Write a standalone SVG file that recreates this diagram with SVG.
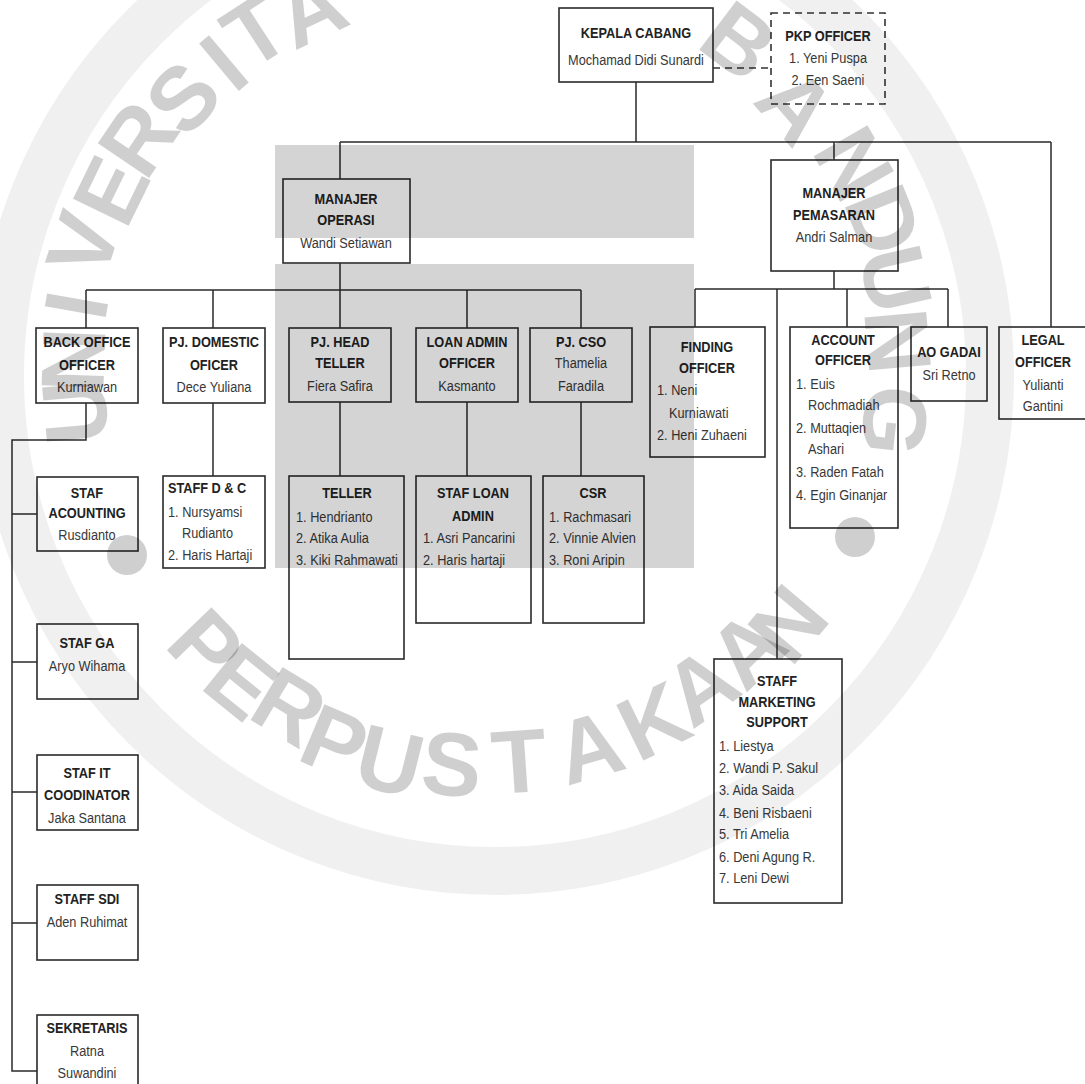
<svg xmlns="http://www.w3.org/2000/svg" width="1085" height="1084" viewBox="0 0 1085 1084">
<defs>
<style>
.bx{fill:#fff;stroke:#2a2a2a;stroke-width:1.6}
.dash{fill:#fff;stroke:#333;stroke-width:1.6;stroke-dasharray:7 5}
.cn{fill:none;stroke:#2a2a2a;stroke-width:1.5}
.cd{fill:none;stroke:#333;stroke-width:1.5;stroke-dasharray:7 5}
text{font-family:"Liberation Sans",Arial,sans-serif;font-size:15px}
.t{font-weight:bold;fill:#222;text-anchor:middle}
.tl{font-weight:bold;fill:#222}
.n{fill:#383838;text-anchor:middle}
.l{fill:#383838}
.t,.n{transform-box:fill-box;transform-origin:center;transform:scaleX(.85)}
.l,.tl{transform-box:fill-box;transform-origin:left center;transform:scaleX(.85)}
.wm text{font-family:"Liberation Sans",Arial,sans-serif;font-size:90px;font-weight:bold;text-anchor:middle;fill:#000;fill-opacity:.19}
.gr{fill:#000;fill-opacity:.17}
</style>
</defs>
<rect width="1085" height="1084" fill="#fff"/>

<g id="connectors">
<path class="cn" d="M636,82V142M340,142H1051M340,142V179M834,142V160M1051,142V327"/>
<path class="cd" d="M713,68H771"/>
<path class="cn" d="M340,263V290M86,290H581M86,290V328M213,290V328M340,290V328M467,290V328M581,290V328"/>
<path class="cn" d="M86,403V440H12V1071H37M12,514H37M12,662H37M12,792H37M12,923H37"/>
<path class="cn" d="M213,403V476M340,402V476M467,402V476M581,402V476"/>
<path class="cn" d="M834,271V289M695,289H948M695,289V327M777,289V659M847,289V327M948,289V327"/>
</g>

<g id="kepala-cabang"><rect class="bx" x="559" y="8" width="154" height="74"/>
<text class="t" x="636" y="38">KEPALA CABANG</text><text class="n" x="636" y="65">Mochamad Didi Sunardi</text></g>

<g id="pkp-officer"><rect class="dash" x="771" y="13" width="114" height="91"/>
<text class="t" x="828" y="41">PKP OFFICER</text><text class="n" x="828" y="63">1. Yeni Puspa</text><text class="n" x="828" y="85">2. Een Saeni</text></g>

<g id="manajer-operasi"><rect class="bx" x="283" y="179" width="127" height="84"/>
<text class="t" x="346" y="204">MANAJER</text><text class="t" x="346" y="225">OPERASI</text><text class="n" x="346" y="248">Wandi Setiawan</text></g>

<g id="manajer-pemasaran"><rect class="bx" x="771" y="160" width="127" height="111"/>
<text class="t" x="834" y="198">MANAJER</text><text class="t" x="834" y="220">PEMASARAN</text><text class="n" x="834" y="242">Andri Salman</text></g>

<g id="back-office"><rect class="bx" x="36" y="328" width="102" height="75"/>
<text class="t" x="87" y="347">BACK OFFICE</text><text class="t" x="87" y="370">OFFICER</text><text class="n" x="87" y="392">Kurniawan</text></g>

<g id="pj-domestic"><rect class="bx" x="163" y="328" width="102" height="75"/>
<text class="t" x="214" y="347">PJ. DOMESTIC</text><text class="t" x="214" y="370">OFICER</text><text class="n" x="214" y="392">Dece Yuliana</text></g>

<g id="pj-head-teller"><rect class="bx" x="289" y="328" width="102" height="74"/>
<text class="t" x="340" y="347">PJ. HEAD</text><text class="t" x="340" y="368">TELLER</text><text class="n" x="340" y="391">Fiera Safira</text></g>

<g id="loan-admin"><rect class="bx" x="416" y="328" width="102" height="74"/>
<text class="t" x="467" y="347">LOAN ADMIN</text><text class="t" x="467" y="368">OFFICER</text><text class="n" x="467" y="391">Kasmanto</text></g>

<g id="pj-cso"><rect class="bx" x="530" y="328" width="102" height="74"/>
<text class="t" x="581" y="347">PJ. CSO</text><text class="n" x="581" y="368">Thamelia</text><text class="n" x="581" y="391">Faradila</text></g>

<g id="finding-officer"><rect class="bx" x="650" y="327" width="115" height="130"/>
<text class="t" x="707" y="352">FINDING</text><text class="t" x="707" y="373">OFFICER</text>
<text class="l" x="657" y="395">1. Neni</text><text class="l" x="669" y="418">Kurniawati</text><text class="l" x="657" y="440">2. Heni Zuhaeni</text></g>

<g id="account-officer"><rect class="bx" x="790" y="327" width="108" height="201"/>
<text class="t" x="843" y="345">ACCOUNT</text><text class="t" x="843" y="365">OFFICER</text>
<text class="l" x="796" y="389">1. Euis</text><text class="l" x="808" y="410">Rochmadiah</text><text class="l" x="796" y="433">2. Muttaqien</text><text class="l" x="808" y="454">Ashari</text><text class="l" x="796" y="477">3. Raden Fatah</text><text class="l" x="796" y="500">4. Egin Ginanjar</text></g>

<g id="ao-gadai"><rect class="bx" x="911" y="327" width="76" height="74"/>
<text class="t" x="949" y="357">AO GADAI</text><text class="n" x="949" y="380">Sri Retno</text></g>

<g id="legal-officer"><rect class="bx" x="999" y="327" width="92" height="92"/>
<text class="t" x="1043" y="345">LEGAL</text><text class="t" x="1043" y="367">OFFICER</text><text class="n" x="1043" y="390">Yulianti</text><text class="n" x="1043" y="411">Gantini</text></g>

<g id="staf-acounting"><rect class="bx" x="37" y="477" width="101" height="74"/>
<text class="t" x="87" y="498">STAF</text><text class="t" x="87" y="518">ACOUNTING</text><text class="n" x="87" y="540">Rusdianto</text></g>

<g id="staff-dc"><rect class="bx" x="163" y="476" width="102" height="92"/>
<text class="tl" x="168" y="493">STAFF D &amp; C</text><text class="l" x="168" y="517">1. Nursyamsi</text><text class="l" x="182" y="538">Rudianto</text><text class="l" x="168" y="560">2. Haris Hartaji</text></g>

<g id="teller"><rect class="bx" x="289" y="476" width="115" height="183"/>
<text class="t" x="347" y="498">TELLER</text><text class="l" x="296" y="522">1. Hendrianto</text><text class="l" x="296" y="543">2. Atika Aulia</text><text class="l" x="296" y="565">3. Kiki Rahmawati</text></g>

<g id="staf-loan-admin"><rect class="bx" x="416" y="476" width="115" height="147"/>
<text class="t" x="473" y="498">STAF LOAN</text><text class="t" x="473" y="521">ADMIN</text><text class="l" x="423" y="543">1. Asri Pancarini</text><text class="l" x="423" y="565">2. Haris hartaji</text></g>

<g id="csr"><rect class="bx" x="543" y="476" width="101" height="147"/>
<text class="t" x="593" y="498">CSR</text><text class="l" x="549" y="522">1. Rachmasari</text><text class="l" x="549" y="543">2. Vinnie Alvien</text><text class="l" x="549" y="565">3. Roni Aripin</text></g>

<g id="staf-ga"><rect class="bx" x="37" y="624" width="101" height="75"/>
<text class="t" x="87" y="648">STAF GA</text><text class="n" x="87" y="671">Aryo Wihama</text></g>

<g id="staf-it"><rect class="bx" x="37" y="755" width="101" height="75"/>
<text class="t" x="87" y="778">STAF IT</text><text class="t" x="87" y="800">COODINATOR</text><text class="n" x="87" y="823">Jaka Santana</text></g>

<g id="staff-sdi"><rect class="bx" x="37" y="885" width="101" height="75"/>
<text class="t" x="87" y="904">STAFF SDI</text><text class="n" x="87" y="927">Aden Ruhimat</text></g>

<g id="sekretaris"><rect class="bx" x="37" y="1015" width="101" height="80"/>
<text class="t" x="87" y="1033">SEKRETARIS</text><text class="n" x="87" y="1056">Ratna</text><text class="n" x="87" y="1078">Suwandini</text></g>

<g id="staff-marketing-support"><rect class="bx" x="714" y="659" width="128" height="244"/>
<text class="t" x="777" y="686">STAFF</text><text class="t" x="777" y="707">MARKETING</text><text class="t" x="777" y="727">SUPPORT</text>
<text class="l" x="719" y="751">1. Liestya</text><text class="l" x="719" y="773">2. Wandi P. Sakul</text><text class="l" x="719" y="795">3. Aida Saida</text><text class="l" x="719" y="818">4. Beni Risbaeni</text><text class="l" x="719" y="839">5. Tri Amelia</text><text class="l" x="719" y="862">6. Deni Agung R.</text><text class="l" x="719" y="883">7. Leni Dewi</text></g>

<g id="watermark" class="wm">
<circle cx="495" cy="376" r="495" fill="none" stroke="#000" stroke-opacity=".06" stroke-width="48"/>
<rect class="gr" x="275" y="145" width="419" height="93"/>
<rect class="gr" x="275" y="264" width="419" height="304"/>
<circle cx="127" cy="555" r="20" fill="#000" fill-opacity=".19"/>
<circle cx="855" cy="537" r="20" fill="#000" fill-opacity=".19"/>
<text transform="translate(74,412) rotate(265)" dy=".36em">U</text>
<text transform="translate(72,360) rotate(272)" dy=".36em">N</text>
<text transform="translate(75,305) rotate(280)" dy=".36em">I</text>
<text transform="translate(82,244) rotate(288)" dy=".36em">V</text>
<text transform="translate(110,190) rotate(296)" dy=".36em">E</text>
<text transform="translate(137,138) rotate(304)" dy=".36em">R</text>
<text transform="translate(182,97) rotate(312)" dy=".36em">S</text>
<text transform="translate(223,62) rotate(320)" dy=".36em">I</text>
<text transform="translate(255,30) rotate(327)" dy=".36em">T</text>
<text transform="translate(310,8) rotate(335)" dy=".36em">A</text>
<text transform="translate(740,40) rotate(37)" dy=".36em">B</text>
<text transform="translate(797,105) rotate(49)" dy=".36em">A</text>
<text transform="translate(855,163) rotate(60)" dy=".36em">N</text>
<text transform="translate(885,220) rotate(68)" dy=".36em">D</text>
<text transform="translate(897,279) rotate(77)" dy=".36em">U</text>
<text transform="translate(899,341) rotate(85)" dy=".36em">N</text>
<text transform="translate(896,421) rotate(96)" dy=".36em">G</text>
<text transform="translate(207,645) rotate(46)" dy=".36em">P</text>
<text transform="translate(242,681) rotate(39)" dy=".36em">E</text>
<text transform="translate(290,706) rotate(31)" dy=".36em">R</text>
<text transform="translate(335,741) rotate(23)" dy=".36em">P</text>
<text transform="translate(390,760) rotate(14)" dy=".36em">U</text>
<text transform="translate(452,763) rotate(5)" dy=".36em">S</text>
<text transform="translate(519,760) rotate(-4)" dy=".36em">T</text>
<text transform="translate(589,746) rotate(-16)" dy=".36em">A</text>
<text transform="translate(653,720) rotate(-26)" dy=".36em">K</text>
<text transform="translate(700,685) rotate(-35)" dy=".36em">A</text>
<text transform="translate(746,648) rotate(-44)" dy=".36em">A</text>
<text transform="translate(787,623) rotate(-50)" dy=".36em">N</text>
</g>
</svg>
